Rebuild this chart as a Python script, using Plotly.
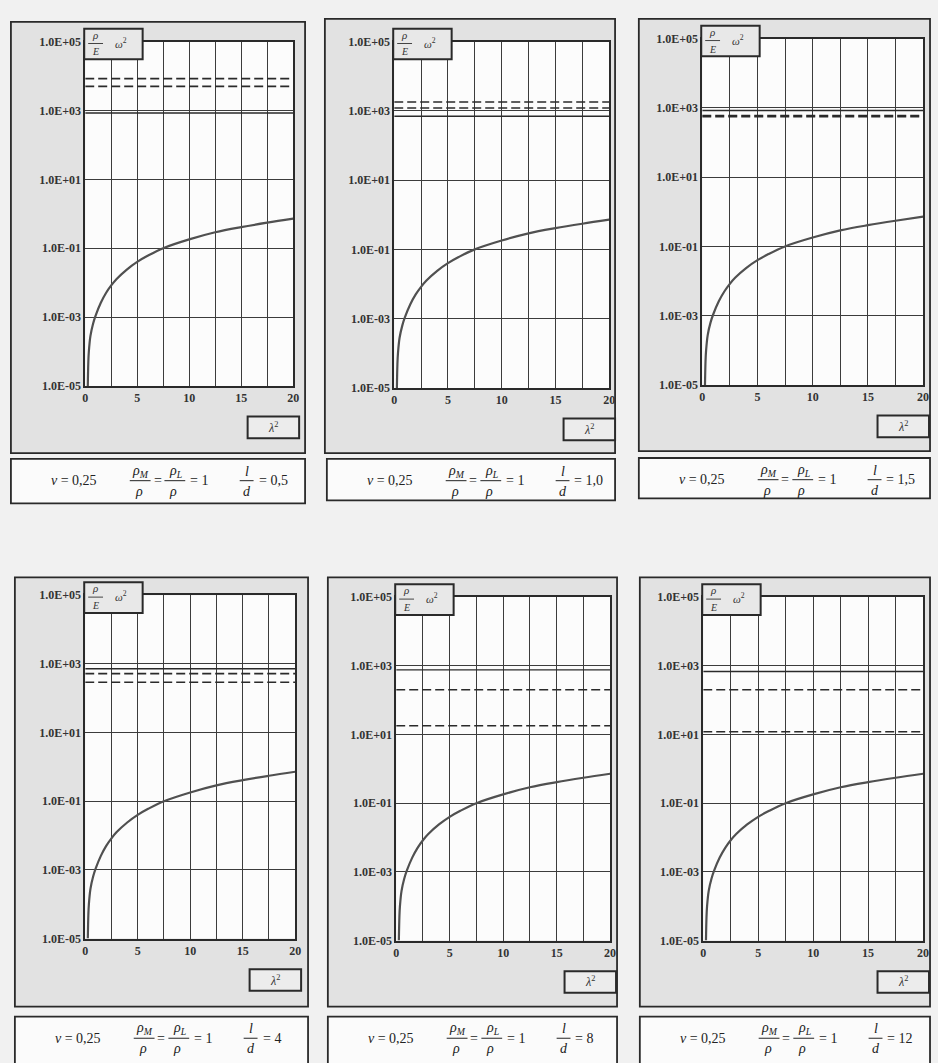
import plotly.graph_objects as go

W, H = 938, 1063

# ---------------- data ----------------
LD_LABELS = ["0,5", "1,0", "1,5", "4", "8", "12"]
LAMBDA2 = [0.25, 0.3, 0.35, 0.5, 0.75, 1, 1.5, 2, 2.5, 3, 4, 5, 6, 7.5, 10, 12.5, 15, 17.5, 20]
CURVE = [1.0e-5, 5e-5, 1e-4, 2.8e-4, 6.3e-4, 1.1e-3, 2.6e-3, 5e-3, 8.3e-3, 1.26e-2, 2.4e-2,
         4.0e-2, 6.0e-2, 0.1, 0.18, 0.29, 0.41, 0.55, 0.72]
SOLID_LEVELS = [[840], [700], [840], [720], [760], [680]]
DASHED_LEVELS = [[8400, 5000], [1800, 1200], [600, 560], [520, 290], [200, 18], [200, 12]]
Y_TICKS = [1e-5, 1e-3, 1e-1, 1e1, 1e3, 1e5]
Y_TICK_TEXT = ["1.0E-05", "1.0E-03", "1.0E-01", "1.0E+01", "1.0E+03", "1.0E+05"]
X_TICKS = [0, 5, 10, 15, 20]
X_TICK_TEXT = ["0", "5", "10", "15", "20"]
X_RANGE = [0, 20]

# ---------------- layout geometry (pixels) ----------------
PLOT_BOXES = [(83, 293, 35, 384), (395, 612, 35, 386), (706, 929, 32, 383),
              (83, 295, 596, 944), (397, 613, 598, 946), (707, 929, 598, 946)]
OUTER_BOXES = [(8, 305, 15, 452), (325, 618, 12, 452), (642, 936, 12, 450),
               (12, 308, 578, 1013), (328, 620, 578, 1013), (643, 936, 578, 1013)]
PARAM_BOXES = [(8, 305, 458, 503), (327, 618, 458, 500), (642, 936, 457, 498),
               (12, 308, 1023, 1075), (328, 620, 1023, 1075), (643, 936, 1023, 1075)]


def px(x):
    return x / W


def py(y):
    return 1 - y / H


DARK = "#2a2a2a"
GRID = "#3c3c3c"
SERIF = "Liberation Serif"

fig = go.Figure()
shapes = []
annotations = []


def note(x, y, text, font, xanchor="center", yanchor="middle"):
    annotations.append(dict(xref="paper", yref="paper", x=px(x), y=py(y), text=text,
                            showarrow=False, font=font, xanchor=xanchor, yanchor=yanchor))


for i in range(6):
    n = "" if i == 0 else str(i + 1)
    xa, ya = "x" + n, "y" + n
    x0, x1, y0, y1 = PLOT_BOXES[i]

    ox0, ox1, oy0, oy1 = OUTER_BOXES[i]
    shapes.append(dict(type="rect", xref="paper", yref="paper", x0=px(ox0), x1=px(ox1),
                       y0=py(oy1), y1=py(oy0), fillcolor="#e2e2e2",
                       line=dict(color=DARK, width=1.8), layer="below"))
    shapes.append(dict(type="rect", xref="paper", yref="paper", x0=px(x0), x1=px(x1),
                       y0=py(y1), y1=py(y0), fillcolor="#fcfcfc",
                       line=dict(width=0), layer="below"))
    bx0, bx1, by0, by1 = PARAM_BOXES[i]
    shapes.append(dict(type="rect", xref="paper", yref="paper", x0=px(bx0), x1=px(bx1),
                       y0=py(by1), y1=py(by0), fillcolor="#fbfbfb",
                       line=dict(color=DARK, width=1.8), layer="below"))

    fig.add_trace(go.Scatter(x=LAMBDA2, y=CURVE, mode="lines", xaxis=xa, yaxis=ya,
                             line=dict(color="#505050", width=2.2, shape="spline"),
                             showlegend=False, hoverinfo="skip"))
    for v in SOLID_LEVELS[i]:
        fig.add_trace(go.Scatter(x=X_RANGE, y=[v, v], mode="lines", xaxis=xa, yaxis=ya,
                                 line=dict(color=DARK, width=1.4),
                                 showlegend=False, hoverinfo="skip"))
    for v in DASHED_LEVELS[i]:
        fig.add_trace(go.Scatter(x=X_RANGE, y=[v, v], mode="lines", xaxis=xa, yaxis=ya,
                                 line=dict(color=DARK, width=1.6, dash="9px,4px"),
                                 showlegend=False, hoverinfo="skip"))

    axis_font = dict(family=SERIF, size=12, color="#333", weight="bold")
    fig.layout["xaxis" + n] = dict(domain=[px(x0), px(x1)], anchor=ya, range=X_RANGE,
                                   tickvals=X_TICKS, ticktext=X_TICK_TEXT, tickfont=axis_font,
                                   showgrid=True, gridcolor=GRID, gridwidth=1.3,
                                   minor=dict(dtick=2.5, tick0=0, showgrid=True,
                                              gridcolor=GRID, gridwidth=1.3, ticks=""),
                                   showline=True, mirror=True, linecolor=DARK, linewidth=1.6,
                                   zeroline=False, ticks="", fixedrange=True)
    fig.layout["yaxis" + n] = dict(domain=[py(y1), py(y0)], anchor=xa, type="log",
                                   range=[-5, 5], tickvals=Y_TICKS, ticktext=Y_TICK_TEXT,
                                   tickfont=axis_font, showgrid=True, gridcolor=GRID,
                                   gridwidth=1.3, showline=True, mirror=True, linecolor=DARK,
                                   linewidth=1.6, zeroline=False, ticks="", fixedrange=True)

    # top-left label box
    shapes.append(dict(type="rect", xref="paper", yref="paper", x0=px(x0 - 1), x1=px(x0 + 58),
                       y0=py(y0 + 18), y1=py(y0 - 13), fillcolor="#e8e8e8",
                       line=dict(color=DARK, width=2), layer="above"))
    lab_font = dict(family=SERIF, size=11, color="#333")
    note(x0 + 10, y0 + 1, "<i>ρ</i>", lab_font, yanchor="bottom")
    shapes.append(dict(type="line", xref="paper", yref="paper", x0=px(x0 + 3), x1=px(x0 + 18),
                       y0=py(y0 + 2), y1=py(y0 + 2), line=dict(color="#444", width=1),
                       layer="above"))
    note(x0 + 10, y0 + 3, "<i>E</i>", dict(family=SERIF, size=10, color="#333"), yanchor="top")
    note(x0 + 36, y0 + 1, "<i>ω</i><sup>2</sup>", lab_font)

    # bottom-right λ² box
    shapes.append(dict(type="rect", xref="paper", yref="paper", x0=px(x1 - 46), x1=px(x1 + 6),
                       y0=py(y1 + 53), y1=py(y1 + 31), fillcolor="#ececec",
                       line=dict(color=DARK, width=2), layer="above"))
    note(x1 - 20, y1 + 42, "<i>λ</i><sup>2</sup>", dict(family=SERIF, size=12, color="#333"))

    # parameter text
    yc = by0 + 22
    fs = dict(family=SERIF, size=14, color="#222")
    note(bx0 + 64, yc, "<i>ν</i> = 0,25", fs)
    for cx, sub in ((bx0 + 131, "M"), (bx0 + 166, "L")):
        note(cx, yc + 1, "<i>ρ</i><sub><i>" + sub + "</i></sub>", fs, yanchor="bottom")
        shapes.append(dict(type="line", xref="paper", yref="paper", x0=px(cx - 11),
                           x1=px(cx + 10), y0=py(yc), y1=py(yc),
                           line=dict(color="#222", width=1), layer="above"))
        note(cx - 2, yc + 1, "<i>ρ</i>", fs, yanchor="top")
    note(bx0 + 148, yc, "=", fs)
    note(bx0 + 179, yc, "= 1", fs, xanchor="left")
    note(bx0 + 238, yc, "<i>l</i>", fs, yanchor="bottom")
    shapes.append(dict(type="line", xref="paper", yref="paper", x0=px(bx0 + 231),
                       x1=px(bx0 + 245), y0=py(yc), y1=py(yc),
                       line=dict(color="#222", width=1), layer="above"))
    note(bx0 + 238, yc + 1, "<i>d</i>", fs, yanchor="top")
    note(bx0 + 248, yc, "= " + LD_LABELS[i], fs, xanchor="left")

fig.update_layout(width=W, height=H, margin=dict(l=0, r=0, t=0, b=0),
                  paper_bgcolor="#f1f1f1", plot_bgcolor="rgba(0,0,0,0)",
                  shapes=shapes, annotations=annotations, showlegend=False)

fig.write_html("out.html", config={"displayModeBar": False},
               post_script="document.body.style.margin='0';"
                           "document.body.style.overflow='hidden';")
